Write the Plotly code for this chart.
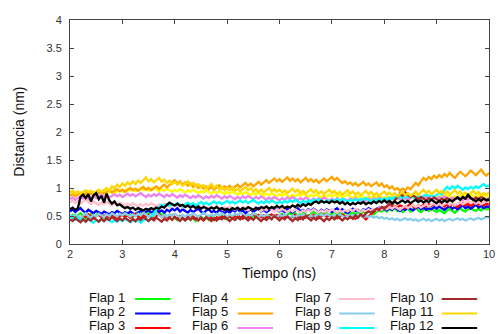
import numpy as np
import plotly.graph_objects as go

# Sampling: 2 ns to 10 ns every 0.05 ns (161 frames)
TIME_NS = np.round(2.0 + 0.05 * np.arange(161), 2)

flap1 = [
    0.48,0.52,0.47,0.51,0.55,0.49,0.46,0.50,0.53,0.48,0.51,0.56,0.50,0.47,0.52,0.49,0.54,0.50,0.46,0.51,
    0.53,0.49,0.55,0.51,0.48,0.54,0.57,0.50,0.53,0.49,0.56,0.52,0.48,0.55,0.58,0.51,0.54,0.49,0.52,0.50,
    0.46,0.43,0.49,0.45,0.42,0.48,0.44,0.47,0.41,0.46,0.49,0.44,0.47,0.43,0.48,0.45,0.42,0.47,0.50,0.46,
    0.44,0.49,0.46,0.51,0.47,0.45,0.50,0.48,0.52,0.46,0.49,0.53,0.47,0.50,0.45,0.49,0.52,0.48,0.51,0.47,
    0.50,0.54,0.49,0.52,0.56,0.51,0.55,0.50,0.53,0.57,0.52,0.49,0.54,0.58,0.53,0.50,0.55,0.52,0.56,0.51,
    0.54,0.58,0.53,0.56,0.51,0.55,0.59,0.54,0.57,0.52,0.56,0.53,0.58,0.55,0.60,0.56,0.53,0.57,0.61,0.58,
    0.62,0.58,0.63,0.60,0.65,0.59,0.62,0.57,0.61,0.64,0.58,0.62,0.66,0.60,0.57,0.61,0.64,0.59,0.63,0.60,
    0.57,0.61,0.58,0.55,0.60,0.63,0.59,0.56,0.61,0.64,0.60,0.58,0.62,0.66,0.61,0.59,0.63,0.60,0.65,0.62,
    0.63]

flap2 = [
    0.58,0.62,0.57,0.60,0.64,0.59,0.56,0.61,0.58,0.55,0.59,0.57,0.54,0.58,0.56,0.53,0.57,0.55,0.59,0.56,
    0.53,0.57,0.54,0.58,0.55,0.52,0.56,0.59,0.55,0.57,0.61,0.56,0.59,0.62,0.57,0.60,0.56,0.61,0.58,0.63,
    0.60,0.64,0.58,0.62,0.59,0.56,0.61,0.57,0.60,0.63,0.58,0.55,0.60,0.62,0.57,0.59,0.56,0.61,0.58,0.55,
    0.59,0.56,0.61,0.58,0.63,0.57,0.60,0.55,0.59,0.62,0.57,0.60,0.64,0.58,0.61,0.57,0.60,0.63,0.59,0.62,
    0.58,0.61,0.57,0.63,0.59,0.56,0.60,0.64,0.58,0.61,0.57,0.62,0.59,0.63,0.60,0.56,0.61,0.58,0.62,0.60,
    0.57,0.61,0.64,0.59,0.62,0.58,0.55,0.60,0.63,0.59,0.61,0.57,0.62,0.60,0.64,0.61,0.58,0.62,0.65,0.61,
    0.63,0.60,0.64,0.61,0.66,0.62,0.59,0.63,0.61,0.65,0.62,0.60,0.64,0.67,0.62,0.65,0.61,0.64,0.62,0.66,
    0.63,0.67,0.64,0.61,0.65,0.68,0.63,0.66,0.62,0.65,0.69,0.64,0.67,0.63,0.66,0.70,0.65,0.68,0.64,0.67,
    0.66]

flap3 = [
    0.50,0.47,0.52,0.49,0.45,0.51,0.48,0.53,0.49,0.46,0.50,0.52,0.48,0.51,0.47,0.50,0.53,0.49,0.46,0.50,
    0.52,0.48,0.51,0.47,0.50,0.54,0.49,0.46,0.51,0.48,0.52,0.49,0.45,0.50,0.53,0.48,0.51,0.47,0.50,0.52,
    0.48,0.45,0.50,0.47,0.43,0.48,0.51,0.46,0.44,0.49,0.45,0.42,0.47,0.50,0.46,0.43,0.48,0.45,0.49,0.46,
    0.47,0.50,0.46,0.49,0.52,0.48,0.45,0.50,0.47,0.51,0.54,0.49,0.52,0.48,0.51,0.47,0.50,0.53,0.49,0.52,
    0.48,0.51,0.47,0.50,0.46,0.49,0.52,0.48,0.45,0.50,0.47,0.51,0.48,0.52,0.49,0.46,0.50,0.53,0.49,0.51,
    0.47,0.50,0.46,0.49,0.53,0.48,0.51,0.47,0.50,0.45,0.49,0.52,0.48,0.44,0.49,0.53,0.58,0.62,0.60,0.64,
    0.66,0.63,0.67,0.64,0.68,0.65,0.69,0.66,0.64,0.68,0.71,0.67,0.65,0.69,0.66,0.70,0.67,0.71,0.68,0.72,
    0.69,0.73,0.70,0.67,0.71,0.68,0.72,0.69,0.66,0.70,0.73,0.69,0.72,0.68,0.71,0.74,0.70,0.73,0.69,0.72,
    0.70]

flap4 = [
    0.87,0.90,0.86,0.89,0.92,0.88,0.91,0.87,0.93,0.89,0.92,0.95,0.90,0.93,0.96,0.92,0.95,0.91,0.94,0.97,
    0.93,0.96,0.99,0.95,0.98,0.94,0.97,1.00,0.96,0.99,0.95,0.98,1.01,0.97,0.94,0.98,0.95,0.99,0.96,0.93,
    0.97,0.94,0.98,0.95,0.92,0.96,0.93,0.97,0.94,0.91,0.95,0.92,0.96,0.93,0.90,0.94,0.91,0.95,0.92,0.89,
    0.93,0.90,0.94,0.91,0.88,0.92,0.89,0.93,0.90,0.87,0.91,0.88,0.92,0.89,0.86,0.90,0.87,0.91,0.88,0.85,
    0.89,0.86,0.90,0.87,0.84,0.88,0.85,0.89,0.86,0.90,0.87,0.84,0.88,0.85,0.89,0.86,0.83,0.87,0.84,0.88,
    0.85,0.88,0.84,0.87,0.83,0.86,0.89,0.85,0.82,0.86,0.83,0.87,0.84,0.81,0.85,0.82,0.86,0.83,0.87,0.84,
    0.81,0.85,0.82,0.86,0.83,0.80,0.84,0.81,0.85,0.82,0.86,0.83,0.87,0.84,0.81,0.85,0.88,0.84,0.87,0.83,
    0.86,0.83,0.87,0.84,0.88,0.85,0.82,0.86,0.83,0.87,0.84,0.88,0.85,0.89,0.86,0.83,0.87,0.84,0.88,0.85,
    0.87]

flap5 = [
    0.86,0.89,0.85,0.88,0.91,0.87,0.90,0.93,0.89,0.92,0.88,0.91,0.94,0.90,0.93,0.96,0.92,0.95,0.98,0.94,
    0.97,0.93,0.96,1.00,0.96,0.99,0.95,0.98,1.02,0.97,1.00,0.96,0.99,1.03,0.98,1.02,1.06,1.01,1.05,1.09,
    1.14,1.08,1.12,1.06,1.10,1.04,1.08,1.02,1.06,1.00,1.04,0.99,1.03,0.98,1.02,0.97,1.01,1.05,0.99,1.03,
    1.00,1.04,0.98,1.02,1.06,1.01,1.05,1.09,1.04,1.08,1.03,1.07,1.11,1.06,1.10,1.14,1.09,1.13,1.17,1.12,
    1.16,1.11,1.15,1.19,1.13,1.17,1.12,1.16,1.10,1.14,1.18,1.12,1.16,1.11,1.15,1.09,1.13,1.17,1.12,1.16,
    1.20,1.14,1.18,1.13,1.09,1.12,1.07,1.10,1.05,1.09,1.04,1.07,1.11,1.05,1.08,1.03,1.07,1.10,1.04,1.08,
    1.02,1.05,0.99,1.03,0.97,1.00,0.95,0.99,0.96,1.01,0.98,1.04,1.09,1.05,1.12,1.18,1.14,1.20,1.16,1.22,
    1.18,1.23,1.19,1.25,1.21,1.27,1.22,1.18,1.24,1.29,1.25,1.21,1.26,1.31,1.27,1.23,1.28,1.33,1.26,1.22,
    1.27]

flap6 = [
    0.80,0.83,0.79,0.82,0.85,0.81,0.84,0.80,0.83,0.86,0.82,0.85,0.88,0.84,0.87,0.83,0.86,0.89,0.85,0.88,
    0.84,0.87,0.90,0.86,0.89,0.85,0.88,0.91,0.87,0.84,0.88,0.85,0.89,0.86,0.90,0.87,0.84,0.88,0.85,0.89,
    0.86,0.83,0.87,0.84,0.88,0.85,0.82,0.86,0.83,0.87,0.84,0.81,0.85,0.82,0.86,0.83,0.87,0.84,0.81,0.85,
    0.82,0.86,0.83,0.80,0.84,0.81,0.85,0.82,0.86,0.83,0.80,0.84,0.81,0.85,0.82,0.79,0.83,0.80,0.84,0.81,
    0.78,0.82,0.79,0.83,0.80,0.84,0.81,0.78,0.82,0.79,0.83,0.80,0.77,0.81,0.78,0.82,0.79,0.83,0.80,0.77,
    0.81,0.78,0.82,0.79,0.76,0.80,0.77,0.81,0.78,0.82,0.79,0.76,0.80,0.77,0.81,0.78,0.82,0.79,0.83,0.80,
    0.77,0.81,0.78,0.82,0.79,0.83,0.80,0.84,0.81,0.78,0.82,0.86,0.83,0.80,0.84,0.81,0.85,0.82,0.86,0.83,
    0.80,0.84,0.81,0.85,0.82,0.79,0.83,0.80,0.84,0.81,0.78,0.82,0.79,0.83,0.80,0.77,0.81,0.78,0.82,0.79,
    0.81]

flap7 = [
    0.74,0.78,0.73,0.77,0.72,0.76,0.80,0.75,0.71,0.76,0.73,0.70,0.74,0.71,0.75,0.72,0.69,0.73,0.70,0.74,
    0.71,0.68,0.72,0.69,0.73,0.70,0.67,0.71,0.68,0.72,0.69,0.73,0.70,0.67,0.71,0.68,0.72,0.69,0.66,0.70,
    0.67,0.71,0.68,0.65,0.69,0.66,0.70,0.67,0.64,0.68,0.65,0.69,0.66,0.63,0.67,0.64,0.68,0.65,0.62,0.66,
    0.63,0.67,0.64,0.61,0.65,0.62,0.66,0.63,0.60,0.64,0.61,0.65,0.62,0.59,0.63,0.60,0.64,0.61,0.58,0.62,
    0.59,0.63,0.60,0.57,0.61,0.58,0.62,0.59,0.56,0.60,0.57,0.61,0.58,0.62,0.59,0.56,0.60,0.57,0.61,0.58,
    0.62,0.59,0.56,0.60,0.57,0.61,0.58,0.62,0.59,0.63,0.60,0.57,0.61,0.58,0.62,0.59,0.63,0.60,0.64,0.61,
    0.65,0.62,0.66,0.63,0.67,0.64,0.61,0.65,0.68,0.64,0.67,0.70,0.66,0.69,0.65,0.68,0.71,0.67,0.70,0.73,
    0.69,0.72,0.68,0.71,0.74,0.70,0.73,0.69,0.72,0.75,0.71,0.74,0.77,0.73,0.76,0.72,0.75,0.71,0.74,0.77,
    0.74]

flap8 = [
    0.52,0.48,0.53,0.50,0.46,0.51,0.55,0.50,0.47,0.52,0.49,0.54,0.51,0.48,0.53,0.50,0.55,0.52,0.49,0.54,
    0.51,0.55,0.52,0.49,0.53,0.50,0.54,0.51,0.56,0.52,0.49,0.53,0.50,0.55,0.51,0.48,0.52,0.49,0.53,0.50,
    0.54,0.51,0.48,0.52,0.49,0.53,0.50,0.55,0.51,0.48,0.52,0.56,0.52,0.49,0.53,0.50,0.54,0.51,0.55,0.52,
    0.49,0.53,0.50,0.54,0.51,0.56,0.52,0.49,0.53,0.50,0.55,0.51,0.48,0.52,0.49,0.53,0.50,0.47,0.51,0.48,
    0.52,0.49,0.53,0.50,0.47,0.51,0.48,0.52,0.49,0.53,0.50,0.47,0.51,0.48,0.52,0.49,0.53,0.50,0.54,0.51,
    0.48,0.52,0.49,0.53,0.50,0.47,0.51,0.48,0.52,0.49,0.53,0.50,0.47,0.51,0.48,0.50,0.47,0.49,0.46,0.48,
    0.45,0.47,0.44,0.46,0.43,0.45,0.42,0.44,0.46,0.43,0.45,0.42,0.44,0.41,0.43,0.45,0.42,0.44,0.41,0.43,
    0.45,0.42,0.44,0.41,0.43,0.45,0.42,0.44,0.46,0.43,0.45,0.42,0.44,0.46,0.43,0.45,0.47,0.44,0.46,0.48,
    0.47]

flap9 = [
    0.50,0.46,0.43,0.47,0.42,0.45,0.40,0.44,0.41,0.38,0.43,0.40,0.44,0.41,0.45,0.42,0.39,0.43,0.40,0.44,
    0.41,0.45,0.42,0.39,0.43,0.40,0.44,0.38,0.42,0.45,0.41,0.48,0.55,0.62,0.66,0.70,0.67,0.71,0.68,0.72,
    0.69,0.73,0.70,0.67,0.71,0.74,0.70,0.73,0.69,0.72,0.75,0.71,0.74,0.70,0.73,0.76,0.72,0.75,0.71,0.74,
    0.77,0.73,0.76,0.72,0.75,0.78,0.74,0.77,0.73,0.76,0.79,0.75,0.72,0.76,0.73,0.77,0.74,0.78,0.75,0.72,
    0.76,0.73,0.77,0.74,0.78,0.75,0.79,0.76,0.73,0.77,0.74,0.78,0.75,0.79,0.76,0.80,0.77,0.74,0.78,0.75,
    0.79,0.76,0.80,0.77,0.81,0.78,0.75,0.79,0.76,0.80,0.77,0.81,0.78,0.82,0.79,0.76,0.80,0.77,0.81,0.78,
    0.82,0.79,0.83,0.80,0.84,0.81,0.85,0.82,0.86,0.83,0.87,0.84,0.81,0.85,0.82,0.86,0.89,0.85,0.88,0.84,
    0.87,0.91,0.88,0.97,1.02,0.98,1.03,0.99,1.04,1.00,0.97,1.01,0.98,1.02,0.99,1.03,1.00,1.04,1.07,1.03,
    1.05]

flap10 = [
    0.44,0.41,0.46,0.42,0.39,0.44,0.40,0.45,0.42,0.47,0.43,0.40,0.45,0.41,0.46,0.43,0.48,0.44,0.41,0.46,
    0.42,0.47,0.43,0.40,0.45,0.41,0.46,0.43,0.48,0.44,0.41,0.46,0.42,0.47,0.44,0.40,0.45,0.42,0.47,0.43,
    0.48,0.44,0.41,0.46,0.42,0.47,0.43,0.49,0.45,0.42,0.47,0.43,0.48,0.44,0.41,0.46,0.42,0.47,0.44,0.49,
    0.45,0.41,0.46,0.43,0.48,0.44,0.50,0.46,0.42,0.47,0.43,0.49,0.45,0.41,0.46,0.43,0.48,0.44,0.50,0.46,
    0.42,0.47,0.44,0.49,0.45,0.41,0.46,0.43,0.48,0.44,0.50,0.46,0.42,0.47,0.43,0.49,0.45,0.41,0.46,0.43,
    0.48,0.44,0.50,0.46,0.42,0.47,0.44,0.49,0.45,0.51,0.47,0.53,0.49,0.55,0.58,0.56,0.60,0.63,0.61,0.66,
    0.63,0.68,0.72,0.69,0.78,0.84,0.90,0.86,0.92,0.88,0.84,0.87,0.83,0.80,0.84,0.81,0.78,0.82,0.79,0.83,
    0.80,0.77,0.81,0.78,0.82,0.79,0.76,0.80,0.83,0.79,0.84,0.81,0.86,0.82,0.79,0.83,0.80,0.84,0.81,0.78,
    0.82]

flap11 = [
    0.92,0.95,0.91,0.94,0.90,0.93,0.96,0.92,0.95,0.91,0.94,0.97,0.93,0.96,1.00,0.95,1.03,0.99,1.06,1.02,
    1.08,1.04,1.10,1.06,1.12,1.07,1.13,1.09,1.15,1.19,1.12,1.16,1.10,1.14,1.18,1.11,1.15,1.09,1.13,1.07,
    1.11,1.06,1.10,1.04,1.08,1.12,1.05,1.09,1.03,1.07,1.01,1.05,0.99,1.03,1.07,1.00,1.04,0.98,1.02,0.96,
    1.00,0.96,1.01,0.95,0.99,0.94,0.98,1.02,0.96,1.00,0.94,0.98,0.93,0.97,0.92,0.96,1.00,0.94,0.98,0.93,
    0.97,0.92,0.96,0.91,0.95,0.99,0.93,0.97,0.91,0.95,0.90,0.94,0.98,0.92,0.96,0.90,0.94,0.89,0.93,0.97,
    0.91,0.95,0.89,0.93,0.88,0.92,0.96,0.90,0.94,0.88,0.92,0.87,0.91,0.95,0.89,0.93,0.87,0.91,0.86,0.90,
    0.94,0.88,0.92,0.87,0.91,0.85,0.89,0.93,0.87,0.91,0.86,0.90,0.94,0.88,0.92,0.97,0.91,0.95,0.89,0.93,
    0.97,0.91,0.95,0.90,0.94,0.88,0.92,0.96,0.90,0.94,0.88,0.92,0.87,0.91,0.95,0.89,0.93,0.87,0.91,0.88,
    0.92]

flap12 = [
    0.62,0.65,0.61,0.64,0.84,0.88,0.82,0.89,0.76,0.87,0.91,0.80,0.86,0.74,0.90,0.78,0.72,0.76,0.69,0.71,
    0.67,0.64,0.66,0.63,0.65,0.61,0.64,0.62,0.60,0.63,0.61,0.64,0.62,0.65,0.63,0.67,0.65,0.70,0.74,0.71,
    0.69,0.72,0.68,0.70,0.66,0.69,0.65,0.68,0.64,0.67,0.63,0.66,0.64,0.62,0.65,0.63,0.66,0.62,0.64,0.61,
    0.63,0.60,0.64,0.62,0.65,0.61,0.64,0.62,0.66,0.63,0.61,0.65,0.62,0.66,0.64,0.67,0.63,0.66,0.64,0.68,
    0.65,0.68,0.64,0.67,0.65,0.69,0.66,0.70,0.67,0.71,0.68,0.72,0.70,0.74,0.76,0.73,0.77,0.74,0.76,0.73,
    0.77,0.74,0.76,0.72,0.75,0.71,0.74,0.70,0.73,0.71,0.74,0.72,0.75,0.71,0.74,0.72,0.76,0.73,0.77,0.74,
    0.78,0.74,0.77,0.73,0.76,0.72,0.75,0.78,0.74,0.77,0.73,0.76,0.79,0.75,0.78,0.74,0.77,0.75,0.79,0.76,
    0.73,0.77,0.74,0.78,0.75,0.79,0.76,0.80,0.83,0.79,0.84,0.81,0.88,0.82,0.79,0.76,0.80,0.77,0.81,0.78,
    0.79]

series_names = ["Flap 1", "Flap 2", "Flap 3", "Flap 4", "Flap 5", "Flap 6",
                "Flap 7", "Flap 8", "Flap 9", "Flap 10", "Flap 11", "Flap 12"]
series_values = [flap1, flap2, flap3, flap4, flap5, flap6,
                 flap7, flap8, flap9, flap10, flap11, flap12]
series_colors = ["#00ff00", "#0000ff", "#ff0000", "#ffff00", "#ffa500", "#ee82ee",
                 "#ffc0cb", "#87ceeb", "#00ffff", "#a52a2a", "#ffd700", "#000000"]

x_ticks = [2, 3, 4, 5, 6, 7, 8, 9, 10]
y_ticks = [0, 0.5, 1, 1.5, 2, 2.5, 3, 3.5, 4]

for vals in series_values:
    assert len(vals) == len(TIME_NS)

FONT = "Liberation Sans, Arial, sans-serif"
W, H = 502, 334
L, R, T, B = 70, 495, 20, 244  # plot-area edges in pixels


def px(xp):
    return (xp - L) / (R - L)


def py(yp):
    return (B - yp) / (B - T)


fig = go.Figure()
for name, vals, col in zip(series_names, series_values, series_colors):
    fig.add_trace(go.Scatter(x=TIME_NS, y=vals, mode="lines", name=name,
                             line=dict(color=col, width=2.3), showlegend=False))

axis_common = dict(showgrid=False, zeroline=False, showline=True, linecolor="#444",
                   linewidth=1, mirror="ticks", ticks="inside", ticklen=4,
                   tickcolor="#444", tickfont=dict(family=FONT, size=11, color="#333"))

fig.update_xaxes(range=[2, 10], tickvals=x_ticks, **axis_common)
fig.update_yaxes(range=[0, 4], tickvals=y_ticks, ticklabelstandoff=5, **axis_common)

annotations = [
    dict(text="Tiempo (ns)", x=px(282), y=py(273), xref="paper", yref="paper",
         showarrow=False, xanchor="center", yanchor="middle",
         font=dict(family=FONT, size=14, color="#111")),
    dict(text="Distancia (nm)", x=px(18), y=py(132), xref="paper", yref="paper",
         showarrow=False, textangle=-90, xanchor="center", yanchor="middle",
         font=dict(family=FONT, size=14, color="#111")),
]
shapes = []

# Key: 4 columns x 3 rows, label followed by a line sample
text_right = [128, 232, 337, 440]
line_left = [136, 240, 343, 447]
row_text_y = [297.5, 311.5, 325.5]
row_line_y = [299, 313.5, 328]
for i, (name, col) in enumerate(zip(series_names, series_colors)):
    c, r = divmod(i, 3)
    annotations.append(dict(text=name, x=px(text_right[c]), y=py(row_text_y[r]),
                            xref="paper", yref="paper", showarrow=False,
                            xanchor="right", yanchor="middle",
                            font=dict(family=FONT, size=13, color="#111")))
    shapes.append(dict(type="line", xref="paper", yref="paper",
                       x0=px(line_left[c]), x1=px(line_left[c] + 36),
                       y0=py(row_line_y[r]), y1=py(row_line_y[r]),
                       line=dict(color=col, width=1.8)))

fig.update_layout(width=W, height=H, margin=dict(l=L, r=W - R, t=T, b=H - B),
                  paper_bgcolor="white", plot_bgcolor="white",
                  annotations=annotations, shapes=shapes, hovermode=False,
                  showlegend=False)

fig.write_html("out.html")
